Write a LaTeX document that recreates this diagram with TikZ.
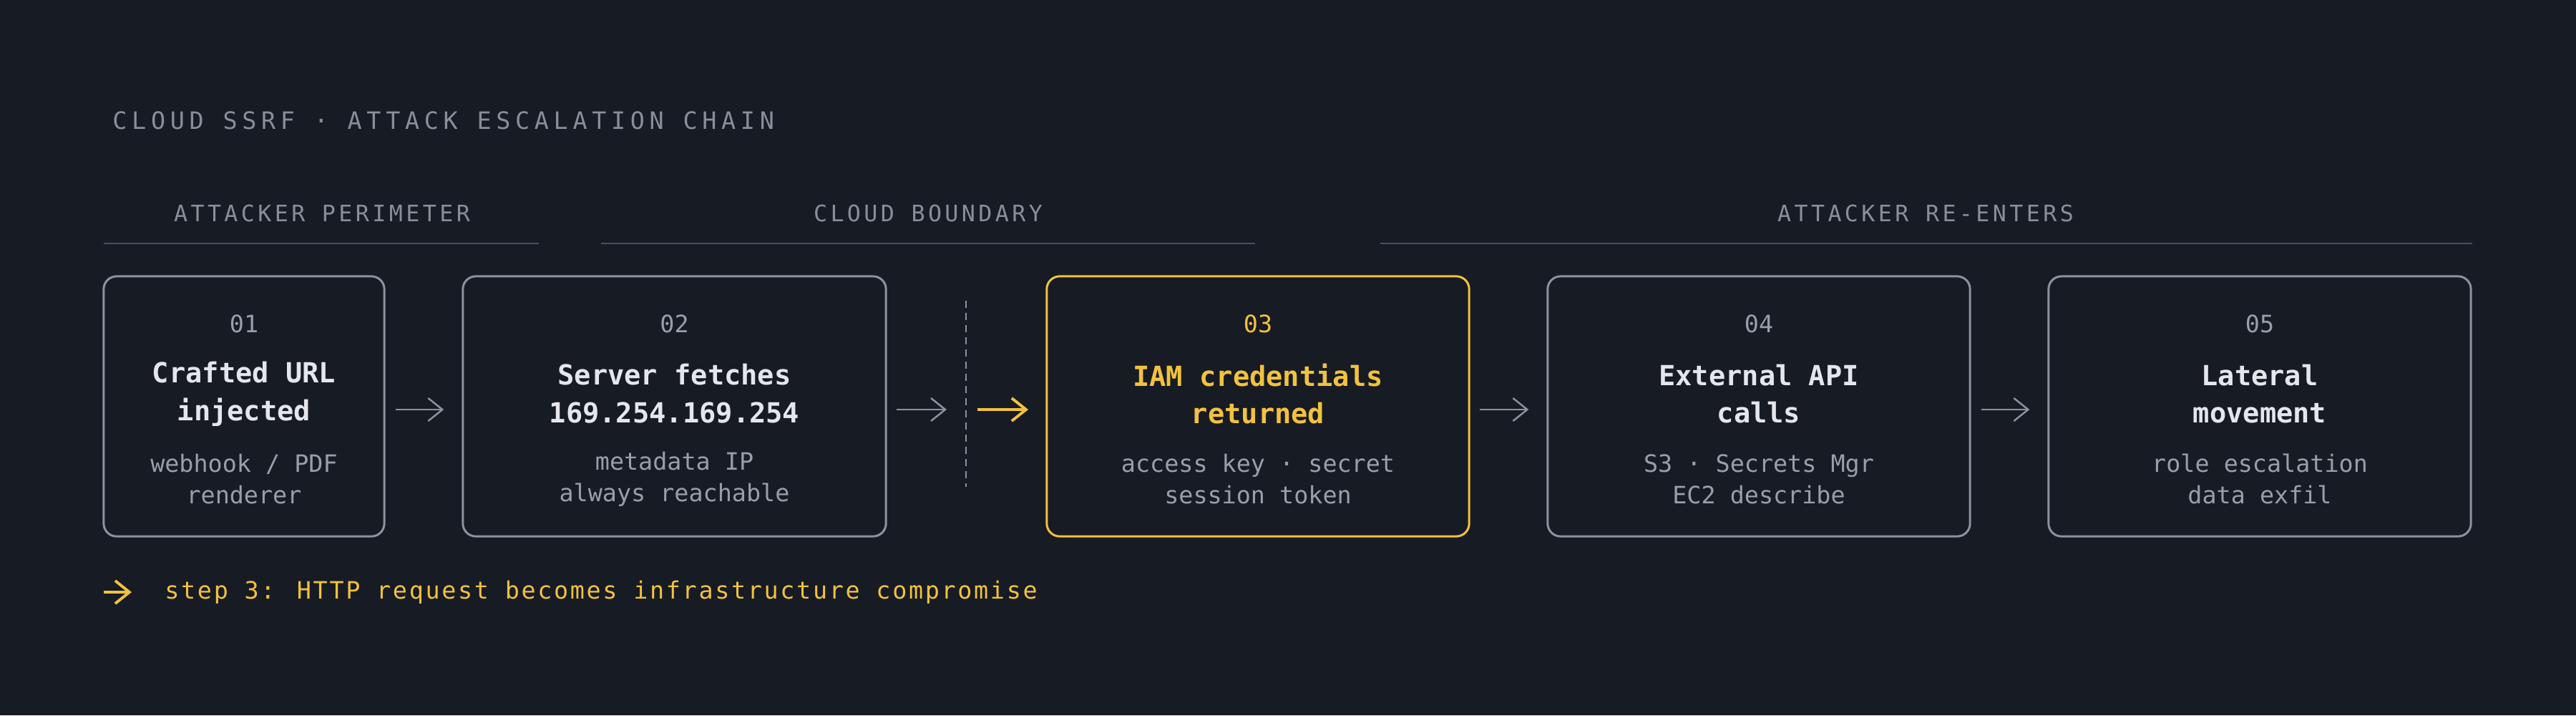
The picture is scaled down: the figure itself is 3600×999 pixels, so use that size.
\documentclass[tikz,border=0pt]{standalone}
\usepackage{fontspec}
\setmainfont{DejaVu Sans Mono}
\setmonofont{DejaVu Sans Mono}
\usetikzlibrary{arrows.meta}
\definecolor{bg}{HTML}{171B24}
\definecolor{edge}{HTML}{8E929C}
\definecolor{ttl}{HTML}{E4E6EC}
\definecolor{sub}{HTML}{9A9EA8}
\definecolor{hdr}{HTML}{8A8E98}
\definecolor{rule}{HTML}{4C505A}
\definecolor{gold}{HTML}{F2C23E}
\begin{document}
\begin{tikzpicture}[x=0.01cm,y=-0.01cm,
  box/.style={draw=edge,line width=0.85pt,rounded corners=0.18cm,inner sep=0pt},
  num/.style={text=sub,font=\fontsize{9.5}{11}\selectfont},
  head/.style={text=ttl,font=\fontsize{11}{15}\selectfont\bfseries,align=center},
  desc/.style={text=sub,font=\fontsize{9.5}{12.5}\selectfont,align=center},
  sec/.style={text=hdr,font=\fontsize{9}{11}\selectfont\addfontfeature{LetterSpace=14}},
  conn/.style={draw=edge,line width=0.7pt,-{Straight Barb[length=0.2cm,width=0.32cm]}},
  gconn/.style={draw=gold,line width=1.1pt,-{Straight Barb[length=0.2cm,width=0.32cm]}}]
\fill[bg] (0,0) rectangle (3600,999);
\useasboundingbox (0,0) rectangle (3600,999);
\node[anchor=west,text=hdr,font=\fontsize{9.5}{11}\selectfont\addfontfeature{LetterSpace=20}] (title) at (145,168) {CLOUD SSRF · ATTACK ESCALATION CHAIN};
% sections
\node[sec] (s1) at (450,298) {ATTACKER PERIMETER};
\node[sec] (s2) at (1297,298) {CLOUD BOUNDARY};
\node[sec] (s3) at (2691,298) {ATTACKER RE-ENTERS};
\draw[rule,line width=0.8pt] (145,340) -- (753,340);
\draw[rule,line width=0.8pt] (840,340) -- (1754,340);
\draw[rule,line width=0.8pt] (1929,340) -- (3455,340);
% boxes
\node[box,minimum width=3.92cm,minimum height=3.63cm] (b1) at (341,567.5) {};
\node[box,minimum width=5.91cm,minimum height=3.63cm] (b2) at (942.5,567.5) {};
\node[box,draw=gold,minimum width=5.90cm,minimum height=3.63cm] (b3) at (1758,567.5) {};
\node[box,minimum width=5.90cm,minimum height=3.63cm] (b4) at (2458,567.5) {};
\node[box,minimum width=5.90cm,minimum height=3.63cm] (b5) at (3158,567.5) {};
% texts
\node[num] (n1) at (341,452) {01};
\node[head] (h1) at (341,550) {Crafted URL\\injected};
\node[desc] (d1) at (341,669) {webhook / PDF\\renderer};
\node[num] (n2) at (942.5,452) {02};
\node[head] (h2) at (942.5,550) {Server fetches\\169.254.169.254};
\node[desc] (d2) at (942.5,669) {metadata IP\\always reachable};
\node[num,text=gold] (n3) at (1758,452) {03};
\node[head,text=gold] (h3) at (1758,550) {IAM credentials\\returned};
\node[desc] (d3) at (1758,669) {access key · secret\\session token};
\node[num] (n4) at (2458,452) {04};
\node[head] (h4) at (2458,550) {External API\\calls};
\node[desc] (d4) at (2458,669) {S3 · Secrets Mgr\\EC2 describe};
\node[num] (n5) at (3158,452) {05};
\node[head] (h5) at (3158,550) {Lateral\\movement};
\node[desc] (d5) at (3158,669) {role escalation\\data exfil};
% boundary
\coordinate (dt) at (1350,420);
\coordinate (db) at (1350,680);
\draw[edge,line width=0.7pt,dash pattern=on 0.1cm off 0.07cm] (dt) -- (db);
\coordinate (ga) at (1366,572);
\coordinate (gb) at (1437,572);
% arrows
\draw[conn] ([xshift=0.14cm]b1.east|-0,572) -- ([xshift=-0.25cm]b2.west|-0,572);
\draw[conn] ([xshift=0.13cm]b2.east|-0,572) -- ([xshift=-0.27cm]dt|-0,572);
\draw[gconn] (ga) -- (gb);
\draw[conn] ([xshift=0.13cm]b3.east|-0,572) -- ([xshift=-0.25cm]b4.west|-0,572);
\draw[conn] ([xshift=0.14cm]b4.east|-0,572) -- ([xshift=-0.25cm]b5.west|-0,572);
% footer
\coordinate (fa) at (145,827);
\coordinate (fb) at (184,827);
\draw[gconn] (fa) -- (fb);
\node[anchor=west,text=gold,font=\fontsize{9.5}{11}\selectfont\addfontfeature{LetterSpace=8}] (foot) at (218,827) {step 3: HTTP request becomes infrastructure compromise};
\end{tikzpicture}
\end{document}
